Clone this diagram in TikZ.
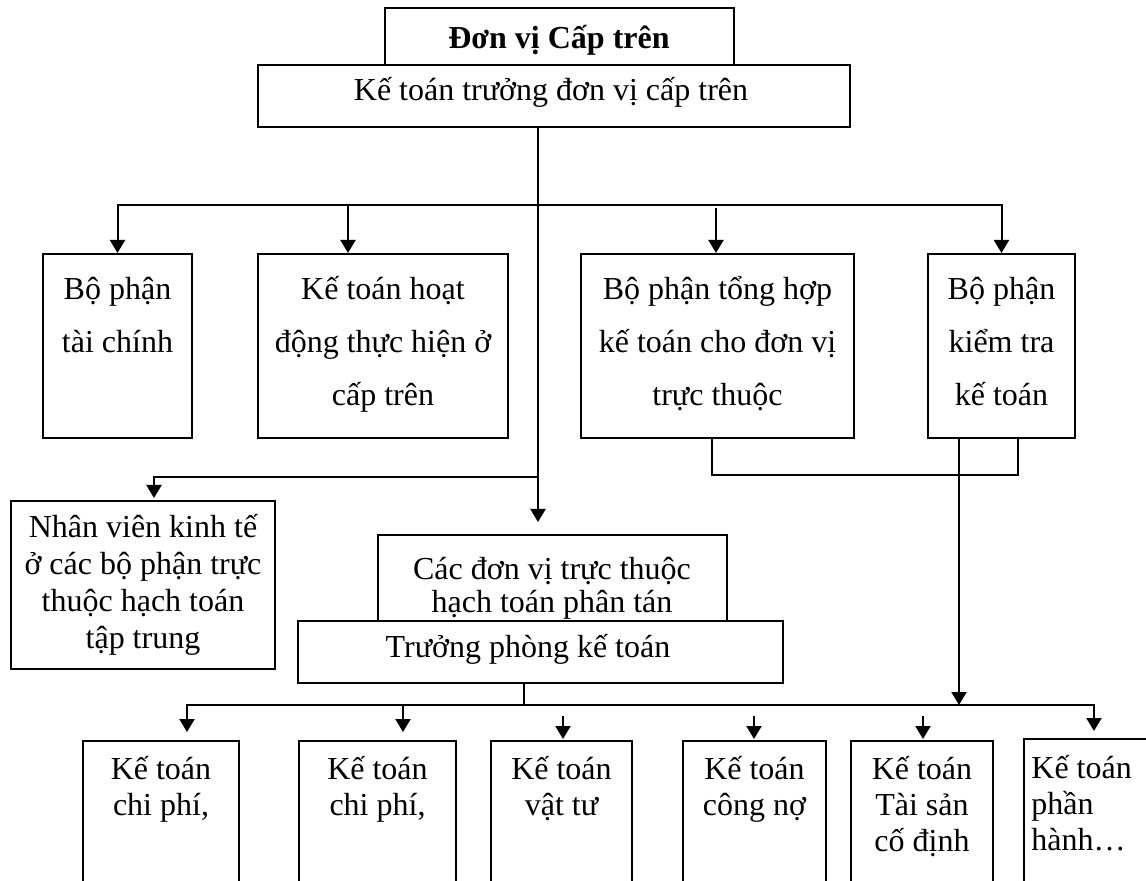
\documentclass[tikz,border=0pt]{standalone}
\usepackage{fontspec}
\setmainfont{Liberation Serif}
\usetikzlibrary{arrows.meta,fit,calc}
\newcommand\fsz[1]{\fontsize{16}{#1}\selectfont}
\newcommand\clines[1]{\parbox[t]{300pt}{\centering #1}}
\newcommand\llines[1]{\parbox[t]{100pt}{\raggedright #1}}

\begin{document}
\begin{tikzpicture}[x=0.5pt,y=-0.5pt,
  box/.style={draw, line width=1pt, inner sep=0pt, fill=white},
  lbl/.style={inner sep=0pt, anchor=base},
  link/.style={line width=1pt},
  arr/.style={line width=1pt, -{Triangle[length=6.5pt,width=7.5pt]}}]
\useasboundingbox (0,0) rectangle (1146,881);
\clip (0,0) rectangle (1146,881);

% head office
\node[box, fit={(385,8) (734,65)}] (top) {};
\node[box, fit={(258,65) (850,127)}] (kttr) {};
\node[lbl, font=\bfseries\fsz{20}] (topt) at (559,49) {Đơn vị Cấp trên};
\node[lbl, font=\fsz{20}] (kttrt) at (551,101) {Kế toán trưởng đơn vị cấp trên};

% departments of the head office
\node[box, fit={(43,254) (192,438)}] (b1) {};
\node[box, fit={(258,254) (508,438)}] (b2) {};
\node[box, fit={(581,254) (854,438)}] (b3) {};
\node[box, fit={(928,254) (1075,438)}] (b4) {};
\node[lbl, font=\fsz{26.5}] (b1t) at (117.5,300) {\clines{Bộ phận\\tài chính}};
\node[lbl, font=\fsz{26.5}] (b2t) at (383,300) {\clines{Kế toán hoạt\\động thực hiện ở\\cấp trên}};
\node[lbl, font=\fsz{26.5}] (b3t) at (717.5,300) {\clines{Bộ phận tổng hợp\\kế toán cho đơn vị\\trực thuộc}};
\node[lbl, font=\fsz{26.5}] (b4t) at (1001.5,300) {\clines{Bộ phận\\kiểm tra\\kế toán}};

% staff and subordinate units
\node[box, fit={(11,501) (275,669)}] (nv) {};
\node[lbl, font=\fsz{18.5}] (nvt) at (143,538) {\clines{Nhân viên kinh tế\\ở các bộ phận trực\\thuộc hạch toán\\tập trung}};
\node[box, fit={(378,535) (727,621)}] (dv) {};
\node[lbl, font=\fsz{16.5}] (dvt) at (552,580) {\clines{Các đơn vị trực thuộc\\hạch toán phân tán}};
\node[box, fit={(298,621) (783,683)}] (tp) {};
\node[lbl, font=\fsz{20}] (tpt) at (528,658) {Trưởng phòng kế toán};

% accounting sections
\node[box, fit={(83,741) (239,900)}] (k1) {};
\node[box, fit={(299,741) (456,900)}] (k2) {};
\node[box, fit={(491,741) (632,900)}] (k3) {};
\node[box, fit={(683,741) (826,900)}] (k4) {};
\node[box, fit={(851,741) (993,900)}] (k5) {};
\node[box, fit={(1024,739) (1160,900)}] (k6) {};
\node[lbl, font=\fsz{18}] (k1t) at (161,779) {\clines{Kế toán\\chi phí,}};
\node[lbl, font=\fsz{18}] (k2t) at (377.5,779) {\clines{Kế toán\\chi phí,}};
\node[lbl, font=\fsz{18}] (k3t) at (561.5,779) {\clines{Kế toán\\vật tư}};
\node[lbl, font=\fsz{18}] (k4t) at (754.5,779) {\clines{Kế toán\\công nợ}};
\node[lbl, font=\fsz{18}] (k5t) at (922,779) {\clines{Kế toán\\Tài sản\\cố định}};
\node[lbl, anchor=base west, font=\fsz{18}] (k6t) at (1031,778) {\llines{Kế toán\\phần\\hành…}};

% routing points
\coordinate (tx) at (538,127);
\coordinate (bar) at (0,205);
\coordinate (nvbar) at (0,477);
\coordinate (bbar) at (0,705);
\coordinate (b2in) at ($(b2.north)+(-35,0)$);
\coordinate (nvin) at ($(nv.north)+(11,-2)$);
\coordinate (t2) at ($(b4.south)+(-42.5,0)$);
\coordinate (tpx) at ($(tp.south)+(-16.5,0)$);
\coordinate (k1in) at ($(k1.north)+(26,-8)$);
\coordinate (k2in) at ($(k2.north)+(25.5,-8)$);
\coordinate (k6in) at ($(k6.north)+(2,-7)$);

% connectors from the chief accountant
\draw[arr] (tx) -- ($(dv.north -| tx)+(0,-12)$);
\draw[arr] (tx |- bar) -| (b1.north);
\draw[arr] (tx |- bar) -| (b4.north);
\draw[arr] (b2in |- bar) -- (b2in);
\draw[arr] ($(b3.north)+(-1.5,-45)$) -- ($(b3.north)+(-1.5,0)$);
\draw[arr] (tx |- nvbar) -| (nvin);

% consolidation and audit towards the sections
\draw[link] ($(b3.south)+(-5.5,0)$) |- ($(b4.south)+(16.5,36)$) -- ($(b4.south)+(16.5,0)$);
\draw[arr] (t2) -- (t2 |- bbar);

% head of accounting to the sections
\draw[link] (tpx) -- (tpx |- bbar);
\draw[arr] (tpx |- bbar) -| (k1in);
\draw[arr] (tpx |- bbar) -| (k6in);
\draw[arr] (k2in |- bbar) -- (k2in);
\draw[arr] ($(k3.north)+(1.5,-24)$) -- ($(k3.north)+(1.5,-1)$);
\draw[arr] ($(k4.north)+(-0.5,-24)$) -- ($(k4.north)+(-0.5,-1)$);
\draw[arr] ($(k5.north)+(1,-24)$) -- ($(k5.north)+(1,-1)$);
\end{tikzpicture}
\end{document}
